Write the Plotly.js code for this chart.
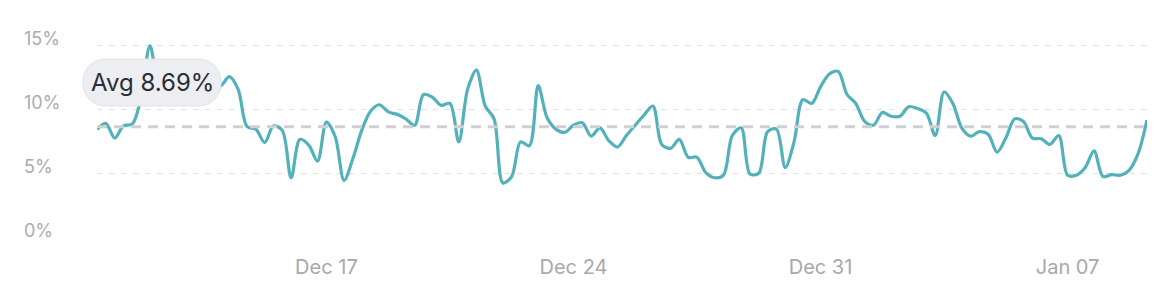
<!DOCTYPE html>
<html>
<head>
<meta charset="utf-8">
<script src="https://cdn.plot.ly/plotly-3.0.1.min.js"></script>
<style>
  html, body { margin: 0; padding: 0; background: #ffffff; }
  #chart { width: 1168px; height: 300px; }
</style>
</head>
<body>
<div id="chart"></div>
<script>
// Six-hourly conversion rate (%) from Dec 10, 12:00 to Jan 9, 06:00
const START_UTC = Date.UTC(2023, 11, 10, 12, 0);
const STEP_HOURS = 6;

const rates = [
  8.47, 8.95, 7.8, 8.75, 8.9, 11.0, 15.0, 12.0, 11.4, 12.2,
  11.6, 12.4, 11.8, 12.6, 11.9, 12.6, 11.6, 8.7, 8.5, 7.45,
  8.75, 8.4, 4.7, 7.7, 7.25, 6.0, 9.05, 7.9, 4.5, 6.2,
  8.4, 9.9, 10.4, 9.85, 9.65, 9.3, 8.8, 11.2, 11.0, 10.35,
  10.5, 7.5, 11.6, 13.1, 10.3, 9.3, 4.3, 4.8, 7.5, 7.2,
  11.9, 9.4, 8.5, 8.25, 8.8, 9.0, 7.95, 8.6, 7.6, 7.1,
  8.0, 8.8, 9.6, 10.3, 7.3, 7.0, 7.7, 6.3, 6.3, 5.1,
  4.7, 4.9, 8.0, 8.6, 5.0, 5.05, 8.3, 8.5, 5.5, 7.5,
  10.8, 10.5, 11.8, 12.8, 13.0, 11.2, 10.5, 9.1, 8.8, 9.8,
  9.5, 9.5, 10.25, 10.1, 9.75, 8.0, 11.4, 10.5, 8.6, 7.95,
  8.3, 8.1, 6.7, 7.8, 9.3, 9.1, 7.8, 7.75, 7.3, 8.0,
  4.9, 4.9, 5.5, 6.8, 4.8, 4.95, 4.9, 5.3, 6.6, 9.2
];

const AVG_RATE = 8.69;

const yTickValues = [0, 5, 10, 15];
const xTickDates = ['2023-12-17', '2023-12-24', '2023-12-31', '2024-01-07'];
const xTickLabels = ['Dec 17', 'Dec 24', 'Dec 31', 'Jan 07'];

// timestamps for each reading
const times = rates.map((_, i) => {
  const d = new Date(START_UTC + i * STEP_HOURS * 3600 * 1000);
  return d.toISOString().slice(0, 16).replace('T', ' ');
});

// plot frame (px)
const W = 1168, H = 300;
const M = { l: 97, r: 21, t: 33, b: 62 };
const PW = W - M.l - M.r, PH = H - M.t - M.b;
const toPaperX = px => (px - M.l) / PW;
const toPaperY = py => (H - M.b - py) / PH;

// rounded pill behind the average badge
function pillPath(cx, cy, w, h, r) {
  const x0 = cx - w / 2, x1 = cx + w / 2, y0 = cy - h / 2, y1 = cy + h / 2;
  const k = 0.5523 * r;
  const P = (x, y) => toPaperX(x).toFixed(5) + ',' + toPaperY(y).toFixed(5);
  return 'M' + P(x0 + r, y0) +
    ' L' + P(x1 - r, y0) +
    ' C' + P(x1 - r + k, y0) + ' ' + P(x1, y0 + r - k) + ' ' + P(x1, y0 + r) +
    ' L' + P(x1, y1 - r) +
    ' C' + P(x1, y1 - r + k) + ' ' + P(x1 - r + k, y1) + ' ' + P(x1 - r, y1) +
    ' L' + P(x0 + r, y1) +
    ' C' + P(x0 + r - k, y1) + ' ' + P(x0, y1 - r + k) + ' ' + P(x0, y1 - r) +
    ' L' + P(x0, y0 + r) +
    ' C' + P(x0, y0 + r - k) + ' ' + P(x0 + r - k, y0) + ' ' + P(x0 + r, y0) + ' Z';
}

const badge = { cx: 152, cy: 82.5, w: 138, h: 47, r: 22 };

const traces = [
  {
    type: 'scatter',
    mode: 'lines',
    x: times,
    y: rates,
    line: { color: '#52b1ba', width: 3.2, shape: 'spline', smoothing: 0.9 },
    hoverinfo: 'skip'
  },
  {
    type: 'scatter',
    mode: 'lines',
    x: [times[0], times[times.length - 1]],
    y: [AVG_RATE, AVG_RATE],
    line: { color: '#d0d0d4', width: 3, dash: '10px,7px' },
    hoverinfo: 'skip'
  }
];

const tickFont = { family: 'Inter, "Noto Sans", sans-serif', size: 18, color: '#ababb0' };

const yLabelAnnotations = yTickValues.map(v => ({
  xref: 'paper', yref: 'y',
  x: toPaperX(22), y: v,
  xanchor: 'left', yanchor: 'bottom',
  yshift: -5,
  text: v + '%',
  showarrow: false,
  font: tickFont
}));

const layout = {
  width: W, height: H,
  margin: M,
  paper_bgcolor: '#ffffff',
  plot_bgcolor: '#ffffff',
  showlegend: false,
  xaxis: {
    type: 'date',
    range: [times[0], times[times.length - 1]],
    tickvals: xTickDates,
    ticktext: xTickLabels,
    showgrid: false,
    zeroline: false,
    showline: false,
    ticks: '',
    ticklabelstandoff: 15,
    tickfont: { family: tickFont.family, size: 20, color: '#a8a8ad' },
    fixedrange: true
  },
  yaxis: {
    range: [0, 16],
    tickvals: yTickValues,
    showticklabels: false,
    showgrid: true,
    gridcolor: '#e0e0e3',
    gridwidth: 1,
    griddash: '5px,7px',
    zeroline: false,
    showline: false,
    fixedrange: true
  },
  shapes: [
    {
      type: 'path',
      xref: 'paper', yref: 'paper',
      path: pillPath(badge.cx, badge.cy, badge.w, badge.h, badge.r),
      fillcolor: '#eceef1',
      line: { color: '#e2e4e8', width: 1 },
      layer: 'above'
    }
  ],
  annotations: yLabelAnnotations.concat([
    {
      xref: 'paper', yref: 'paper',
      x: toPaperX(badge.cx), y: toPaperY(badge.cy),
      xanchor: 'center', yanchor: 'middle',
      text: 'Avg ' + AVG_RATE.toFixed(2) + '%',
      showarrow: false,
      font: { family: 'Inter, "Noto Sans", sans-serif', size: 24, color: '#2a2d36' }
    }
  ])
};

Plotly.newPlot('chart', traces, layout, { staticPlot: true, displayModeBar: false });
</script>
</body>
</html>
